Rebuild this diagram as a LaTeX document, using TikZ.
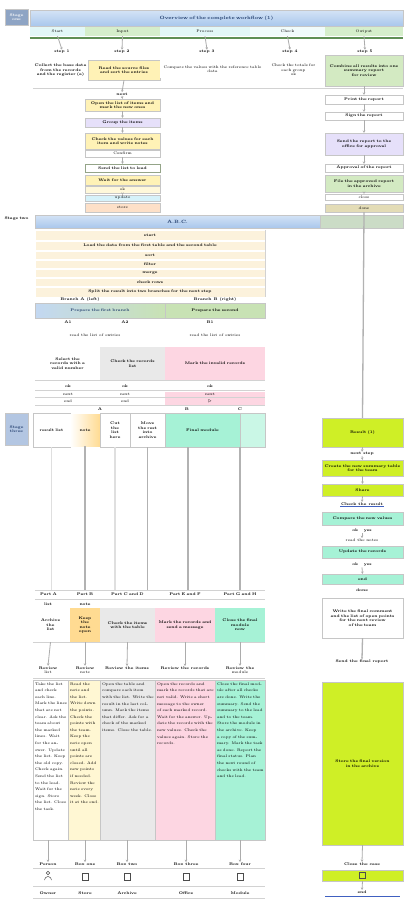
\documentclass[tikz,border=0pt]{standalone}
\usetikzlibrary{arrows.meta,calc}
\definecolor{hdrblue}{HTML}{A9C7EC}
\definecolor{lbl}{HTML}{8EA4C4}
\definecolor{lbl3}{HTML}{B3C6E2}
\definecolor{navy}{HTML}{1F3B6B}
\definecolor{bcyan}{HTML}{E2F7F7}
\definecolor{bgreen}{HTML}{D5EECB}
\definecolor{dkgreen}{HTML}{5F8F55}
\definecolor{yel}{HTML}{FFF2B6}
\definecolor{lav}{HTML}{E6E0FA}
\definecolor{rgreen}{HTML}{D3EAC2}
\definecolor{cream}{HTML}{FCF2DC}
\definecolor{pinkb}{HTML}{FDD6E2}
\definecolor{grayb}{HTML}{E9E9E9}
\definecolor{mint}{HTML}{A6F2D6}
\definecolor{lime}{HTML}{CFEF26}
\definecolor{peach}{HTML}{FDE0C8}
\definecolor{cyanb}{HTML}{D6F2FA}
\definecolor{tan}{HTML}{E3DCB6}
\definecolor{hgreen}{HTML}{CBDCC6}
\definecolor{brgreen}{HTML}{C8E2B4}
\definecolor{linkblue}{HTML}{4060C0}
\tikzset{
  txt/.style={font=\fontsize{3.8}{4.5}\selectfont, inner sep=0.5pt, align=center},
  bxs/.style={txt, draw=gray!45, line width=0.3pt, inner sep=1pt},
  arr/.style={-{Stealth[length=2.4pt,width=2.6pt]}, draw=gray!65, line width=0.8pt},
  vdark/.style={draw=gray!60, line width=1.3pt},
  vlight/.style={draw=gray!25, line width=1.3pt},
  thin/.style={draw=gray!35, line width=0.3pt}
}
\newcommand\bx[8][]{%
  \pgfmathsetmacro\bw{#5-#3}\pgfmathsetmacro\bh{#6-#4}%
  \pgfmathsetmacro\btw{max(#5-#3-3,1)}%
  \pgfmathsetmacro\bcx{(#3+#5)/2}\pgfmathsetmacro\bcy{(#4+#6)/2}%
  \node[bxs,fill=#7,minimum width=\bw pt,minimum height=\bh pt,text width=\btw pt,#1] (#2) at (\bcx,\bcy) {#8};}
\newcommand\tb[7]{%
  \pgfmathsetmacro\bw{#4-#2}\pgfmathsetmacro\bh{#5-#3}%
  \pgfmathsetmacro\btw{#4-#2-3}%
  \pgfmathsetmacro\bcx{(#2+#4)/2}\pgfmathsetmacro\bcy{(#3+#5)/2}%
  \node[draw=gray!45, line width=0.3pt, fill=#6, minimum width=\bw pt, minimum height=\bh pt, inner sep=0pt] (#1) at (\bcx,\bcy) {};
  \node[txt, font=\fontsize{3.8}{6.6}\selectfont, align=left, anchor=north west, text width=\btw pt] (#1t) at ([xshift=1.5pt,yshift=-2pt]#1.north west) {#7};}
\newcommand\lb[4]{\node[txt] (#1) at (#2,#3) {#4};}
\begin{document}
\begin{tikzpicture}[x=1pt,y=-1pt]
\path[use as bounding box, fill=white] (0,0) rectangle (407,908);

% ---------------- stage 1 ----------------
\bx[text=white]{tl}{5}{9}{28}{25}{lbl}{\bfseries Stage\\ one}
\bx[top color=hdrblue!50, bottom color=hdrblue]{h1}{30}{10}{403}{26}{hdrblue}{\bfseries\color{navy}\fontsize{4.6}{5}\selectfont Overview of the complete workflow (1)}
\bx[draw=none]{b1}{30}{27}{85}{36}{bcyan}{Start}
\bx[draw=none]{b2}{85}{27}{160}{36}{bgreen}{Input}
\bx[draw=none]{b3}{160}{27}{250}{36}{bcyan}{Process}
\bx[draw=none]{b4}{250}{27}{325}{36}{bcyan!50}{Check}
\bx[draw=none]{b5}{325}{27}{403}{36}{bgreen}{Output}
\draw[dkgreen,line width=1.6pt] (b1.south west) ++(0,2) -- ([yshift=-2pt]b5.south east);
\lb{l1}{62}{52}{\bfseries step 1}
\lb{l2}{122}{52}{\bfseries step 2}
\lb{l3}{207}{52}{\bfseries step 3}
\lb{l4}{290}{52}{\bfseries step 4}
\lb{l5}{365}{52}{\bfseries step 5}
\foreach \i in {1,...,5}{\draw[arr] (b\i.south) -- (l\i.north);}
\bx[draw=none]{r1}{33}{56}{88}{85}{white}{\bfseries Collect the base data\\ from the records\\ and the register (a)}
\bx{r2}{88}{60}{160}{80}{yel}{\bfseries Read the source files\\ and sort the entries}
\bx[draw=none]{r3}{160}{60}{265}{78}{white}{Compare the values with the reference table\\ data}
\bx[draw=none]{r4}{265}{56}{322}{84}{white}{Check the totals for\\ each group\\ ok}
\bx{r5}{325}{55}{403}{86}{rgreen}{\bfseries Combine all results into one\\ summary report\\ for review}
\draw[thin] (r1.south west) ++(0,3) -- ([yshift=-2pt]r5.south east);

% column 2 chain
\lb{c2a}{122}{94}{\bfseries next}
\draw[arr] (r2.south) -- (c2a.north);
\bx{c2b}{85}{99}{160}{111}{yel}{\bfseries Open the list of items and\\ mark the new ones}
\bx{c2c}{85}{118}{160}{127}{lav}{\bfseries Group the items}
\bx{c2d}{85}{133}{160}{149}{yel}{\bfseries Check the values for each\\ item and write notes}
\bx{c2e}{85}{150}{160}{157}{white}{Confirm}
\bx[draw=rgreen!70!black]{c2f}{85}{164}{160}{172}{white}{\bfseries Send the list to lead}
\bx{c2g}{85}{175}{160}{185}{yel}{\bfseries Wait for the answer}
\bx{c2h}{85}{186}{160}{193}{yel!50}{ok}
\bx{c2i}{85}{195}{160}{201}{cyanb}{update}
\bx{c2j}{85}{203}{160}{212}{peach}{store}
\draw[arr] (c2a.south) -- (c2b.north);
\draw[arr] (c2b.south) -- (c2c.north);
\draw[arr] (c2c.south) -- (c2d.north);
\draw[arr] (c2e.south) -- (c2f.north);
\draw[arr] (c2h.south) -- (c2i.north);

% column 5 chain
\bx{c5a}{325}{95}{403}{104}{white}{\bfseries Print the report}
\bx{c5b}{325}{112}{403}{120}{white}{\bfseries Sign the report}
\bx{c5c}{325}{133}{403}{155}{lav}{\bfseries Send the report to the\\ office for approval}
\bx{c5d}{325}{164}{403}{172}{white}{\bfseries Approval of the report}
\bx{c5e}{325}{175}{403}{192}{rgreen}{\bfseries File the approved report\\ in the archive}
\bx{c5f}{325}{194}{403}{200}{white}{close}
\bx{c5g}{325}{204}{403}{212}{tan}{done}
\draw[arr] (r5.south) -- (c5a.north);
\draw[arr] (c5a.south) -- (c5b.north);
\draw[arr] (c5b.south) -- (c5c.north);
\draw[arr] (c5c.south) -- (c5d.north);
\draw[arr] (c5e.south) -- (c5f.north);

% ---------------- stage 2 ----------------
\bx[draw=none]{tl2}{3}{213}{30}{224}{white}{\bfseries Stage two}
\bx[top color=hdrblue!50, bottom color=hdrblue]{h2}{35}{215}{320}{228}{hdrblue}{\bfseries\color{navy}\fontsize{4.6}{5}\selectfont A.B.C.}
\bx{h2r}{320}{215}{403}{228}{hgreen}{}
\bx[draw=white]{s1}{35}{230}{265}{240}{cream}{\bfseries start}
\bx[draw=white]{s2}{35}{241}{265}{250}{cream}{\bfseries Load the data from the first table and the second table}
\bx[draw=white]{s3}{35}{251}{265}{259}{cream}{\bfseries sort}
\bx[draw=white]{s4}{35}{260}{265}{268}{cream}{\bfseries filter}
\bx[draw=white]{s5}{35}{269}{265}{277}{cream}{\bfseries merge}
\bx[draw=white]{s6}{35}{278}{265}{286}{cream}{\bfseries check rows}
\bx[draw=white]{s7}{35}{287}{265}{297}{cream}{\bfseries Split the result into two branches for the next step}
\draw[thin] (s1.north east) -- (s7.south east);
\lb{p1}{80}{300}{\bfseries Branch A (left)}
\lb{p2}{215}{300}{\bfseries Branch B (right)}
\bx[left color=hdrblue!70, right color=brgreen]{ha}{35}{303}{165}{318}{white}{\bfseries\color{navy} Prepare the first branch}
\bx{hb}{165}{303}{265}{318}{brgreen}{\bfseries Prepare the second}
\lb{q11}{68}{322}{\bfseries A1}
\lb{q12}{125}{322}{\bfseries A2}
\lb{q13}{210}{322}{\bfseries B1}
\lb{o1}{95}{335}{read the list of entries}
\lb{o2}{215}{335}{read the list of entries}
\bx[draw=none]{bw}{35}{347}{100}{380}{white}{\bfseries Select the\\ records with a\\ valid number}
\bx[draw=none]{bg}{100}{347}{165}{380}{grayb}{\bfseries Check the records\\ list}
\bx[draw=none]{bp}{165}{347}{265}{380}{pinkb}{\bfseries Mark the invalid records}
\fill[pinkb] (165,392) rectangle (265,405);
\lb{y1}{68}{386}{\bfseries ok}
\lb{y2}{125}{386}{\bfseries ok}
\lb{y3}{210}{386}{\bfseries ok}
\lb{y4}{68}{394}{next}
\lb{y5}{125}{394}{next}
\lb{y6}{210}{394}{next}
\lb{y7}{68}{401}{end}
\lb{y8}{125}{401}{end}
\lb{y9}{210}{401}{$\triangleright$}
\draw[thin] (bw.south west) -- (bp.south east);
\draw[thin] (35,390) -- (265,390);
\draw[thin] (35,397) -- (265,397);
\draw[thin] (35,405) -- (265,405);
\lb{z1}{100}{409}{\bfseries A}
\lb{z2}{187}{409}{\bfseries B}
\lb{z3}{240}{409}{\bfseries C}

% ---------------- stage 3 ----------------
\bx{tl3}{5}{413}{28}{445}{lbl3}{\bfseries\color{navy} Stage\\ three}
\bx{m1}{33}{413}{70}{447}{white}{\bfseries result list}
\bx[draw=none,left color=white,right color=yel!80!orange]{m2}{70}{414}{100}{446}{white}{\bfseries note}
\bx{m3}{100}{413}{130}{447}{white}{\bfseries Cut\\ the\\ list\\ here}
\bx{m4}{130}{413}{165}{447}{white}{\bfseries Move\\ the rest\\ into\\ archive}
\bx{m5}{165}{413}{240}{447}{mint}{\bfseries Final module}
\bx{m6}{240}{413}{265}{447}{mint!60}{}
\bx{rl}{322}{418}{403}{447}{lime}{\bfseries Result (1)}
\draw[vdark] (c5g.south) -- (rl.north);

% right chain
\lb{rc1}{362}{454}{\bfseries next step}
\bx{rc2}{322}{460}{403}{476}{lime}{\bfseries Create the new summary table\\ for the team}
\bx{rc3}{322}{484}{403}{496}{lime}{\bfseries Share}
\lb{rc4}{362}{504}{\bfseries Check the result}
\draw[linkblue,line width=0.4pt] ([yshift=-0.5pt]rc4.south west) -- ([yshift=-0.5pt]rc4.south east);
\bx{rc5}{322}{512}{403}{525}{mint}{\bfseries Compare the new values}
\lb{rc6}{362}{531}{\bfseries ok \quad yes}
\lb{rc7}{362}{540}{read the notes}
\bx{rc8}{322}{546}{403}{558}{mint}{\bfseries Update the records}
\lb{rc9}{362}{565}{\bfseries ok \quad yes}
\bx{rc10}{322}{574}{403}{584}{mint}{\bfseries end}
\lb{rc11}{362}{590}{\bfseries done}
\bx{rc12}{322}{598}{403}{638}{white}{\bfseries Write the final comment\\ and the list of open points\\ for the next review\\ of the team}
\draw[arr] (rl.south) -- (rc1.north);
\draw[arr] (rc1.south) -- (rc2.north);
\draw[arr] (rc2.south) -- (rc3.north);
\draw[arr] (rc3.south) -- (rc4.north);
\draw[arr] (rc6.south) -- (rc7.north);
\draw[arr] (rc9.south) -- (rc10.north);
\lb{rc13}{362}{662}{\bfseries Send the final report}
\draw[vdark,-{Stealth[length=2.5pt]}] (rc12.south) -- (rc13.north);
\bx{rc14}{322}{682}{403}{845}{lime}{\bfseries Store the final version\\ in the archive}
\lb{rc15}{362}{864}{\bfseries Close the case}
\bx{rc16}{322}{870}{403}{881}{lime}{}
\draw[gray!60!black,line width=0.5pt] ([xshift=-3pt,yshift=-3pt]rc16.center) rectangle ([xshift=3pt,yshift=3pt]rc16.center);
\lb{rc17}{362}{892}{\bfseries end}
\draw[linkblue,line width=0.4pt] (325,896) -- (400,896);
\draw[arr] (rc14.south) -- (rc15.north);
\draw[arr] (rc16.south) -- (rc17.north);

% bottom labels
\bx[draw=none]{q1}{35}{590}{62}{599}{white}{\bfseries Part A}
\bx[draw=none]{q2}{70}{590}{100}{599}{white}{\bfseries Part B}
\bx[draw=none]{q3}{100}{590}{155}{599}{white}{\bfseries Part C and D}
\bx[draw=none]{q4}{155}{590}{215}{599}{white}{\bfseries Part E and F}
\bx[draw=none]{q5}{215}{590}{265}{599}{white}{\bfseries Part G and H}
\draw[thin] (q1.south west) -- (q5.south east);
\draw[thin] (q1.north west) -- (q5.north east);
\lb{q1b}{48}{604}{\bfseries list}
\lb{q2b}{85}{604}{\bfseries note}
\draw[vlight] (m1.south) -- (m1.south |- q1.north);
\draw[vdark] (m2.south) -- (m2.south |- q2.north);
\draw[vlight] (m3.south) -- (m3.south |- q3.north);
\draw[vdark] (m4.south) -- (m4.south |- q3.north);
\coordinate (v5) at (188,447);
\draw[vdark] (v5) -- (v5 |- q4.north);
\draw[vdark] (m6.south west) -- (m6.south west |- q5.north);

\bx[draw=none]{k1}{33}{608}{68}{642}{white}{\bfseries Archive\\ the\\ list}
\bx[draw=none]{k2}{70}{608}{100}{642}{yel!80!orange}{\bfseries Keep\\ the\\ note\\ open}
\bx[draw=none]{k3}{100}{608}{155}{642}{grayb}{\bfseries Check the items\\ with the table}
\bx[draw=none]{k4}{155}{608}{215}{642}{pinkb}{\bfseries Mark the records and\\ send a message}
\bx[draw=none]{k5}{215}{608}{265}{642}{mint}{\bfseries Close the final\\ module\\ now}
\draw[thin] (k1.south west) -- (k5.south east);
\lb{j1}{48}{670}{\bfseries Review\\ list}
\lb{j2}{85}{670}{\bfseries Review\\ note}
\lb{j3}{127}{668}{\bfseries Review the items}
\lb{j4}{185}{668}{\bfseries Review the records}
\lb{j5}{240}{670}{\bfseries Review the\\ module}
\foreach \i in {1,...,5}{\draw[arr] (k\i.south) -- (j\i.north);}
\draw[thin] (33,678) -- (265,678);

\tb{t1}{33}{680}{68}{840}{white}{Take the list and check each line. Mark the lines that are not clear. Ask the team about the marked lines. Wait for the answer. Update the list. Keep the old copy. Check again. Send the list to the lead. Wait for the sign. Store the list. Close the task.}
\tb{t2}{68}{680}{100}{840}{yel!60}{Read the note and the list. Write down the points. Check the points with the team. Keep the note open until all points are closed. Add new points if needed. Review the note every week. Close it at the end.}
\tb{t3}{100}{680}{155}{840}{grayb}{Open the table and compare each item with the list. Write the result in the last column. Mark the items that differ. Ask for a check of the marked items. Close the table.}
\tb{t4}{155}{680}{215}{840}{pinkb}{Open the records and mark the records that are not valid. Write a short message to the owner of each marked record. Wait for the answer. Update the records with the new values. Check the values again. Store the records.}
\tb{t5}{215}{680}{265}{840}{mint}{Close the final module after all checks are done. Write the summary. Send the summary to the lead and to the team. Store the module in the archive. Keep a copy of the summary. Mark the task as done. Report the final status. Plan the next round of checks with the team and the lead.}

\lb{u1}{48}{864}{\bfseries Person}
\lb{u2}{85}{864}{\bfseries Box one}
\lb{u3}{127}{864}{\bfseries Box two}
\lb{u4}{186}{864}{\bfseries Box three}
\lb{u5}{240}{864}{\bfseries Box four}
\foreach \i in {1,...,5}{\draw[arr] (t\i.south -| u\i) -- (u\i.north);}
\draw[thin] (33,868) -- (265,868);
\draw[thin] (33,886) -- (265,886);
% icons
\draw[gray!60!black,line width=0.5pt] (48,873) circle (1.8pt);
\draw[gray!60!black,line width=0.5pt] (44.5,880) arc (180:0:3.5pt);
\foreach \xx in {85,127,186,240}{\draw[gray!60!black,line width=0.5pt] (\xx-3,873) rectangle (\xx+3,880);}
\lb{w1}{48}{893}{\bfseries Owner}
\lb{w2}{85}{893}{\bfseries Store}
\lb{w3}{127}{893}{\bfseries Archive}
\lb{w4}{186}{893}{\bfseries Office}
\lb{w5}{240}{893}{\bfseries Module}
\draw[thin] (33,898) -- (265,898);
\end{tikzpicture}
\end{document}
